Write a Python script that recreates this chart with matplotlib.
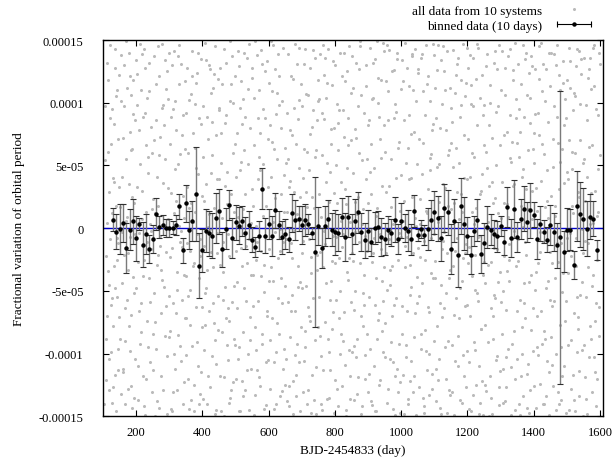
import matplotlib
matplotlib.use("Agg")
import matplotlib.pyplot as plt
from matplotlib.lines import Line2D
from matplotlib.legend_handler import HandlerLine2D, HandlerTuple
from matplotlib.ticker import FixedLocator, FixedFormatter

plt.rcParams["font.family"] = ["Liberation Serif", "DejaVu Serif"]

# Unbinned points from all 10 systems: (BJD-2454833, variation in 1e-6)
gray_pts = [
    (112, 132), (118, -45), (121, 88), (108, -121), (126, 12), (131, -78), (137, 143), (142, -8), (115, 61), (128, -139),
    (134, 37), (146, -96), (110, -22), (139, 105), (123, -61), (144, 71), (119, -104), (133, -30), (148, 122), (113, 4),
    (127, 95), (141, -55), (136, -117), (117, 29), (145, -12),
    (152, -88), (158, 41), (163, 130), (167, -140), (171, 9), (176, -33), (181, 77), (186, -69), (191, 118), (196, -5),
    (155, 101), (161, -115), (169, 55), (174, -20), (179, 140), (184, -126), (189, 25), (194, -52), (198, 86), (157, -3),
    (165, -64), (173, 112), (182, -98), (188, 63), (193, -135),
    (202, 98), (207, -27), (211, 147), (215, -83), (219, 30), (224, -142), (229, 66), (233, -11), (238, 109), (243, -59),
    (247, 15), (205, -110), (213, 51), (221, -38), (227, 128), (235, -95), (241, 3), (246, 81), (209, -66), (217, 139),
    (231, -120), (237, 44), (244, -17), (249, -131), (226, 92),
    (251, 23), (256, -75), (260, 115), (264, -138), (269, 58), (273, -14), (278, 96), (283, -47), (287, 134), (292, -102),
    (297, 7), (254, 70), (262, -29), (267, 145), (275, -118), (281, 36), (289, -62), (295, 103), (258, -150), (271, -6),
    (285, 82), (299, -87), (266, 18), (279, -41), (293, 125),
    (302, -23), (306, 89), (311, -131), (316, 47), (320, -68), (325, 137), (329, 2), (334, -106), (339, 74), (343, -37),
    (348, 117), (304, -144), (313, 12), (318, 101), (327, -85), (332, 59), (337, -15), (345, -123), (308, 130), (322, -49),
    (341, 26), (347, -72), (314, -100), (330, 146), (336, -2),
    (351, 92), (356, -54), (360, 16), (365, -137), (369, 121), (374, -28), (378, 64), (383, -91), (387, 140), (392, -9),
    (397, -115), (353, 33), (362, -77), (367, 107), (376, -146), (381, 48), (389, -40), (395, 83), (358, -120), (371, 5),
    (385, 124), (399, -63), (364, -18), (379, 99), (393, -132),
    (402, 57), (406, -97), (411, 134), (415, -33), (420, 11), (424, -127), (429, 85), (433, -60), (438, 145), (443, -4),
    (447, -81), (404, 22), (413, -140), (418, 71), (427, -19), (431, 112), (440, -108), (445, 39), (408, -52), (422, 127),
    (435, -76), (449, 96), (416, 1), (437, -148), (426, 44),
    (452, -118), (456, 76), (461, -35), (465, 143), (470, -72), (474, 19), (479, -139), (483, 101), (488, -8), (493, 60),
    (497, -93), (454, 128), (463, -57), (468, 34), (477, -105), (481, -22), (490, 137), (495, -46), (458, 8), (472, 90),
    (486, -129), (499, 67), (466, -150), (485, 115), (476, -64),
    (502, 41), (507, -104), (511, 129), (515, -16), (520, 83), (524, -134), (529, 27), (533, -58), (538, 111), (543, -89),
    (547, 4), (505, -43), (513, 96), (518, -122), (527, 62), (531, -3), (540, 147), (545, -71), (509, -146), (522, 15),
    (536, -28), (549, 120), (516, 53), (534, -113), (526, 140),
    (552, -62), (556, 104), (561, -25), (565, 138), (570, -119), (574, 46), (579, -84), (583, 10), (588, 125), (593, -141),
    (597, 71), (554, 18), (563, -97), (568, 88), (577, -38), (581, 131), (590, -6), (595, -70), (558, -133), (572, 57),
    (586, -51), (599, 33), (566, -11), (584, 95), (591, -107),
    (602, 116), (606, -31), (611, 69), (615, -144), (620, 24), (624, -76), (629, 139), (633, -18), (638, 80), (643, -112),
    (647, 42), (604, -89), (613, 5), (618, 127), (627, -56), (631, 98), (640, -130), (645, 13), (608, 149), (622, -99),
    (636, -40), (649, -125), (616, 63), (634, -1), (626, 108),
    (652, -9), (656, 92), (661, -126), (665, 38), (670, -53), (674, 119), (679, -101), (683, 67), (688, -30), (693, 144),
    (697, -79), (654, -138), (663, 78), (668, -12), (677, 29), (681, -117), (690, 102), (695, -43), (658, 55), (672, -148),
    (686, 131), (699, 7), (666, -66), (684, -92), (691, 48),
    (702, -48), (706, 131), (711, -82), (715, 17), (720, -129), (724, 75), (729, -36), (733, 142), (738, -4), (743, -111),
    (747, 86), (704, 40), (713, 107), (718, -63), (727, -147), (731, 25), (740, 57), (745, -21), (708, -106), (722, -9),
    (736, -137), (749, 118), (716, 61), (734, 94), (726, -74),
    (752, 103), (756, -19), (761, 58), (765, -113), (770, 136), (774, -44), (779, 8), (783, -135), (788, 79), (793, -67),
    (797, 28), (754, -86), (763, 146), (768, -2), (777, 116), (781, -99), (790, -26), (795, 133), (758, -140), (772, 37),
    (786, -57), (799, -121), (766, 87), (784, 45), (791, -80),
    (802, -7), (806, -128), (811, 94), (815, -50), (820, 121), (824, -90), (829, 31), (833, -145), (838, 66), (843, -24),
    (847, 108), (804, 50), (813, -72), (818, 6), (827, 140), (831, -109), (840, -41), (845, -136), (808, 84), (822, -15),
    (836, 125), (849, -59), (816, -100), (834, 19), (826, 73),
    (852, 137), (856, -65), (861, 21), (865, -103), (870, 97), (874, -11), (879, -148), (883, 54), (888, -37), (893, 113),
    (897, -84), (854, -26), (863, 72), (868, -132), (877, 145), (881, 3), (890, -120), (895, 39), (858, -94), (872, 127),
    (886, -52), (899, 82), (866, 11), (884, -78), (891, -6),
    (902, -116), (906, 45), (911, -27), (915, 132), (920, -61), (924, 10), (929, 100), (933, -125), (938, 56), (943, -42),
    (947, 141), (904, 86), (913, -141), (918, -8), (927, -88), (931, 120), (940, -17), (945, -99), (908, 27), (922, -146),
    (936, 71), (949, -31), (916, 104), (934, -68), (926, 149),
    (952, 61), (956, -139), (961, 109), (965, -33), (970, 17), (974, -107), (979, 88), (983, -56), (988, 135), (993, -4),
    (997, -123), (954, -20), (963, 34), (968, -91), (977, 126), (981, -149), (990, 64), (995, 14), (958, 146), (972, -70),
    (986, -112), (999, 42), (966, -45), (984, 93), (991, -131),
    (1002, -84), (1006, 117), (1011, -14), (1015, 52), (1020, -136), (1024, 90), (1029, -47), (1033, 25), (1038, -118),
    (1043, 143), (1047, -60), (1004, 6), (1013, -103), (1018, 128), (1027, -29), (1031, 75), (1040, -87), (1045, 2),
    (1008, -148), (1022, 39), (1036, 110), (1049, -39), (1016, -66), (1034, 137), (1026, -122),
    (1052, 124), (1056, -23), (1061, -96), (1065, 68), (1070, -142), (1074, 14), (1079, 115), (1083, -67), (1088, 46),
    (1093, -128), (1097, 83), (1054, -54), (1063, 139), (1068, -10), (1077, -113), (1081, 31), (1090, -36), (1095, 147),
    (1058, 23), (1072, -81), (1086, 101), (1099, -5), (1066, -135), (1084, -100), (1091, 59),
    (1102, -40), (1106, 88), (1111, -121), (1115, 21), (1120, 134), (1124, -71), (1129, -3), (1133, 110), (1138, -147),
    (1143, 62), (1147, -33), (1104, -112), (1113, 51), (1118, -60), (1127, 145), (1131, -95), (1140, 18), (1145, -129),
    (1108, 126), (1122, -17), (1136, 78), (1149, 96), (1116, -143), (1134, -52), (1126, 35),
    (1152, -131), (1156, 49), (1161, -18), (1165, 122), (1170, -86), (1174, 7), (1179, 98), (1183, -139), (1188, 40),
    (1193, -62), (1197, 144), (1154, 85), (1163, -106), (1168, 29), (1177, -48), (1181, 118), (1190, -118), (1195, -13),
    (1158, -69), (1172, 136), (1186, -24), (1199, -98), (1166, 64), (1184, 13), (1191, 105),
    (1202, 71), (1206, -144), (1211, 114), (1215, -38), (1220, 3), (1224, -97), (1229, 147), (1233, -58), (1238, 27),
    (1243, -122), (1247, 90), (1204, -15), (1213, 60), (1218, -133), (1227, 119), (1231, -7), (1240, -80), (1245, 43),
    (1208, 138), (1222, -49), (1236, -110), (1249, -27), (1216, 97), (1234, -148), (1226, 16),
    (1252, -77), (1256, 129), (1261, -29), (1265, 82), (1270, -135), (1274, 37), (1279, -53), (1283, 141), (1288, -102),
    (1293, 12), (1297, 66), (1254, -125), (1263, 5), (1268, 100), (1277, -88), (1281, -16), (1290, 127), (1295, -141),
    (1258, 48), (1272, -64), (1286, 93), (1299, -114), (1266, -150), (1284, 24), (1291, -43),
    (1302, 110), (1306, -50), (1311, 20), (1315, -127), (1320, 77), (1324, -13), (1329, 143), (1333, -92), (1338, 34),
    (1343, -145), (1347, 103), (1304, -84), (1313, 128), (1318, -34), (1327, 56), (1331, -111), (1340, -2), (1345, 88),
    (1308, -139), (1322, 9), (1336, 118), (1349, -66), (1316, -103), (1334, 69), (1326, -25),
    (1352, -9), (1356, 95), (1361, -118), (1365, 41), (1370, -60), (1374, 135), (1379, -143), (1383, 15), (1388, 84),
    (1393, -37), (1397, -98), (1354, 57), (1363, -79), (1368, 146), (1377, -21), (1381, 106), (1390, -129), (1395, 30),
    (1358, -149), (1372, -44), (1386, 124), (1399, 63), (1366, 1), (1384, -108), (1391, 137),
    (1402, -126), (1406, 32), (1411, -70), (1415, 119), (1420, -19), (1424, 67), (1429, -140), (1433, 101), (1438, -48),
    (1443, 8), (1447, 140), (1404, 91), (1413, -101), (1418, -3), (1427, 131), (1431, -82), (1440, 46), (1445, -115),
    (1408, -35), (1422, 148), (1436, -134), (1449, -57), (1416, 74), (1434, 17), (1426, -92),
    (1452, 26), (1456, -109), (1461, 139), (1465, -40), (1470, 89), (1474, -131), (1479, 53), (1483, -12), (1488, 116),
    (1493, -74), (1497, -147), (1454, -62), (1463, 10), (1468, -145), (1477, 122), (1481, -95), (1490, 36), (1495, 103),
    (1458, 71), (1472, -27), (1486, -118), (1499, -8), (1466, 130), (1484, -51), (1491, 82),
    (1502, -93), (1506, 144), (1511, -22), (1515, 61), (1520, -137), (1524, 105), (1529, -55), (1533, 29), (1538, -114),
    (1543, 123), (1547, -1), (1504, 39), (1513, -128), (1518, 94), (1527, -8), (1531, -99), (1540, 70), (1545, -43),
    (1508, 112), (1522, -68), (1536, 141), (1549, -150), (1516, 18), (1534, -80), (1526, 129),
    (1552, 55), (1556, -119), (1561, 86), (1565, -31), (1570, 136), (1574, -88), (1579, 4), (1583, 113), (1588, -142),
    (1593, 47), (1597, -63), (1554, -10), (1563, 120), (1568, -103), (1577, -46), (1581, 146), (1590, -25), (1595, 90),
    (1558, -136), (1572, 28), (1586, -74), (1599, 131), (1566, 65), (1584, -115), (1591, 10),
    # second pass over the same stretch
    (104, -140), (107, 54), (111, -70), (114, 118), (116, -34), (120, 146), (122, -9), (125, -99), (129, 40), (130, -127),
    (132, 83), (135, -48), (138, 18), (140, -146), (143, 110), (147, -71), (149, 33), (106, 97), (109, -88), (124, 67),
    (135, 128), (141, -25), (128, -56), (118, -129), (144, -113),
    (151, 17), (153, 138), (156, -44), (159, -112), (160, 72), (162, -21), (164, 97), (166, -90), (168, 6), (170, 149),
    (172, -57), (175, -128), (177, 35), (178, -78), (180, 121), (183, -7), (185, 62), (187, -143), (190, -39), (192, 91),
    (195, 20), (197, -104), (199, 134), (154, -132), (186, 106),
    (201, -48), (203, 33), (204, 123), (206, -137), (208, 78), (210, -4), (212, -92), (214, 110), (216, -60), (218, 7),
    (220, 89), (222, -118), (223, 143), (225, -25), (228, -149), (230, 13), (232, 104), (234, -74), (236, 57), (239, -40),
    (240, 132), (242, -107), (245, -2), (248, 60), (250, -84),
    (252, -113), (253, 137), (255, -52), (257, 12), (259, 86), (261, -96), (263, 41), (265, -21), (268, -143), (270, 121),
    (272, 73), (274, -68), (276, -33), (277, 147), (280, -129), (282, 98), (284, 1), (286, -86), (288, 55), (290, -19),
    (291, 111), (294, -148), (296, 32), (298, -54), (300, 140),
    (301, 67), (303, -82), (305, 28), (307, -16), (309, -146), (310, 95), (312, -60), (315, 141), (317, -112), (319, 22),
    (321, 78), (323, -35), (324, -129), (326, 51), (328, 115), (331, -94), (333, -11), (335, 131), (338, -57), (340, 90),
    (342, -140), (344, 8), (346, 63), (349, -101), (350, -38),
    (352, -72), (354, 128), (355, -12), (357, 60), (359, -144), (361, 102), (363, -49), (366, 20), (368, -94), (370, 141),
    (372, -30), (373, 76), (375, -125), (377, 13), (380, -63), (382, 116), (384, -5), (386, -110), (388, 43), (390, -140),
    (391, 88), (394, -22), (396, 135), (398, -79), (400, 26),
    (401, -136), (403, 97), (405, -14), (407, 148), (409, -77), (410, 35), (412, -48), (414, 89), (417, -118), (419, 130),
    (421, -66), (423, -1), (425, 108), (428, -102), (430, 58), (432, -31), (434, 123), (436, 16), (439, -89), (441, 74),
    (442, -145), (444, -20), (446, 119), (448, -54), (450, 39),
    (451, 94), (453, -29), (455, -146), (457, 52), (459, -83), (460, 115), (462, -11), (464, -119), (467, 84), (469, -47),
    (471, 132), (473, -93), (475, 45), (478, -5), (480, -74), (482, 149), (484, -135), (487, 27), (489, -59), (491, 100),
    (492, -123), (494, 13), (496, -88), (498, 121), (500, -18),
    (501, -120), (503, 76), (504, -64), (506, 141), (508, 9), (510, -95), (512, 46), (514, -146), (517, 117), (519, -30),
    (521, -83), (523, 103), (525, -48), (528, -129), (530, 89), (532, -14), (535, 136), (537, -100), (539, 51), (541, -9),
    (542, -145), (544, 80), (546, -37), (548, -112), (550, 31),
    (551, 128), (553, -37), (555, -149), (557, 66), (559, -79), (560, 149), (562, 2), (564, -113), (567, 39), (569, -58),
    (571, 110), (573, -126), (575, 76), (576, -18), (578, 142), (580, -92), (582, 51), (585, -144), (587, -29), (589, 88),
    (592, 18), (594, -66), (596, 133), (598, -105), (600, -42),
    (601, -17), (603, 82), (605, -128), (607, 41), (609, -72), (610, 109), (612, -42), (614, 146), (617, -107), (619, -3),
    (621, 91), (623, -140), (625, 55), (628, -24), (630, -84), (632, 121), (635, -134), (637, 27), (639, -60), (641, 101),
    (642, -11), (644, 144), (646, -96), (648, 64), (650, -46),
    (651, 52), (653, -104), (655, 13), (657, -59), (659, 139), (660, -142), (662, 33), (664, -87), (667, 121), (669, -24),
    (671, 74), (673, -122), (675, -2), (676, 96), (678, -66), (680, 147), (682, -134), (685, 11), (687, -47), (689, 87),
    (692, -107), (694, 25), (696, -146), (698, 115), (700, -20),
    (701, 97), (703, -131), (705, -10), (707, 63), (709, -95), (710, 143), (712, -46), (714, 29), (717, -140), (719, 106),
    (721, -70), (723, 46), (725, 128), (728, -23), (730, -117), (732, 81), (735, -56), (737, 16), (739, 136), (741, -89),
    (742, 62), (744, -148), (746, -33), (748, 101), (750, -79),
    (751, -55), (753, 27), (755, 139), (757, -102), (759, 9), (760, -145), (762, 92), (764, -31), (767, 122), (769, -75),
    (771, -13), (773, 104), (775, -136), (776, 52), (778, -88), (780, 143), (782, 21), (785, -113), (787, 67), (789, -42),
    (792, 114), (794, -6), (796, -147), (798, 80), (800, -28),
    (801, 130), (803, -57), (805, 20), (807, 99), (809, -142), (810, 62), (812, -24), (814, 140), (817, -84), (819, 37),
    (821, -126), (823, 94), (825, -5), (828, -67), (830, 117), (832, -150), (835, 48), (837, -35), (839, 88), (841, -97),
    (842, 145), (844, 5), (846, -118), (848, 70), (850, -20),
    (851, -99), (853, 44), (855, 112), (857, -137), (859, -3), (860, 79), (862, -50), (864, 132), (867, -88), (869, 25),
    (871, -119), (873, 60), (875, -28), (876, 149), (878, -70), (880, 106), (882, -142), (885, 15), (887, 92), (889, -61),
    (892, -101), (894, 130), (896, -18), (898, 55), (900, -131),
    (901, 20), (903, -55), (905, 144), (907, -96), (909, 67), (910, -138), (912, 103), (914, -20), (917, 48), (919, -110),
    (921, 135), (923, -40), (925, -146), (928, 16), (930, -73), (932, 89), (935, -121), (937, -5), (939, 118), (941, -82),
    (942, 34), (944, 148), (946, -58), (948, 82), (950, -103),
    (951, -76), (953, 117), (955, 29), (957, -49), (959, -128), (960, 86), (962, -9), (964, 142), (967, -104), (969, 55),
    (971, -30), (973, 125), (975, -144), (976, 3), (978, -61), (980, 99), (982, -118), (985, 40), (987, 140), (989, -25),
    (992, -92), (994, 69), (996, -147), (998, 111), (1000, -7),
    (1001, 134), (1003, -62), (1005, -117), (1007, 22), (1009, 86), (1010, -31), (1012, 148), (1014, -93), (1017, -7),
    (1019, 64), (1021, -140), (1023, 113), (1025, -53), (1028, 40), (1030, -106), (1032, 139), (1035, -20), (1037, -131),
    (1039, 77), (1041, 8), (1042, -68), (1044, 101), (1046, -149), (1048, 51), (1050, 127),
    (1051, -16), (1053, -127), (1055, 71), (1057, 3), (1059, 136), (1060, -84), (1062, 43), (1064, -44), (1067, 109),
    (1069, -147), (1071, 90), (1073, -25), (1075, -98), (1076, 146), (1078, 12), (1080, -63), (1082, 121), (1085, -133),
    (1087, 56), (1089, -8), (1092, -116), (1094, 78), (1096, -40), (1098, 138), (1100, -90),
    (1101, 112), (1103, -26), (1105, -138), (1107, 49), (1109, -78), (1110, 146), (1112, 5), (1114, -104), (1117, 80),
    (1119, -45), (1121, -148), (1123, 99), (1125, -10), (1128, 125), (1130, -64), (1132, 32), (1135, -120), (1137, -20),
    (1139, 141), (1141, -90), (1142, 58), (1144, -40), (1146, 112), (1148, -133), (1150, 15),
    (1151, 68), (1153, -93), (1155, 142), (1157, -30), (1159, 20), (1160, -149), (1162, 108), (1164, -56), (1167, -8),
    (1169, 131), (1171, -110), (1173, 52), (1175, -72), (1176, 89), (1178, -137), (1180, 27), (1182, -42), (1185, 147),
    (1187, -101), (1189, 74), (1192, -20), (1194, 116), (1196, -127), (1198, 39), (1200, -61),
    (1201, -28), (1203, 128), (1205, -107), (1207, 41), (1209, -70), (1210, 99), (1212, -146), (1214, 13), (1217, 136),
    (1219, -91), (1221, 57), (1223, -21), (1225, -125), (1228, 82), (1230, -52), (1232, 144), (1235, -6), (1237, 104),
    (1239, -139), (1241, 30), (1242, -80), (1244, 122), (1246, -37), (1248, -149), (1250, 66),
    (1251, 98), (1253, -44), (1255, -130), (1257, 61), (1259, -1), (1260, 139), (1262, -91), (1264, 34), (1267, -118),
    (1269, 114), (1271, -27), (1273, 72), (1275, -148), (1276, 20), (1278, -70), (1280, 132), (1282, -56), (1285, -105),
    (1287, 50), (1289, -17), (1292, 97), (1294, -127), (1296, 146), (1298, -35), (1300, 8),
    (1301, -59), (1303, 37), (1305, 141), (1307, -112), (1309, 74), (1310, -22), (1312, -138), (1314, 106), (1317, -65),
    (1319, 19), (1321, 137), (1323, -96), (1325, -42), (1328, 90), (1330, -149), (1332, 53), (1335, -9), (1337, 126),
    (1339, -82), (1341, 35), (1342, -120), (1344, 148), (1346, -30), (1348, 68), (1350, -104),
    (1351, 131), (1353, -26), (1355, -140), (1357, 77), (1359, -57), (1360, 18), (1362, 115), (1364, -100), (1367, 47),
    (1369, -134), (1371, 89), (1373, -11), (1375, -72), (1376, 140), (1378, 31), (1380, -116), (1382, 62), (1385, -43),
    (1387, -147), (1389, 104), (1392, -81), (1394, 7), (1396, 129), (1398, -64), (1400, 52),
    (1401, 76), (1403, -49), (1405, 127), (1407, -143), (1409, 14), (1410, -95), (1412, 92), (1414, -28), (1417, 145),
    (1419, -124), (1421, 38), (1423, -66), (1425, 109), (1428, -11), (1430, -140), (1432, 59), (1435, -88), (1437, 127),
    (1439, 22), (1441, -106), (1442, 85), (1444, -42), (1446, -149), (1448, 113), (1450, -19),
    (1451, -87), (1453, 140), (1455, -28), (1457, 49), (1459, -126), (1460, 97), (1462, -58), (1464, 18), (1467, -100),
    (1469, 146), (1471, -12), (1473, 68), (1475, -140), (1476, 31), (1478, -77), (1480, 110), (1482, -137), (1485, 63),
    (1487, -36), (1489, 133), (1492, -110), (1494, -2), (1496, 88), (1498, -58), (1500, 45),
    (1501, 118), (1503, -36), (1505, -145), (1507, 70), (1509, -4), (1510, 133), (1512, -89), (1514, 47), (1517, -117),
    (1519, 12), (1521, 108), (1523, -146), (1525, 60), (1528, -30), (1530, 143), (1532, -71), (1535, 25), (1537, -134),
    (1539, 99), (1541, -53), (1542, 8), (1544, 135), (1546, -97), (1548, 52), (1550, -20),
    (1551, -93), (1553, 136), (1555, 22), (1557, -55), (1559, 98), (1560, -148), (1562, 41), (1564, -12), (1567, 127),
    (1569, -78), (1571, 3), (1573, 111), (1575, -131), (1576, 66), (1578, -37), (1580, 144), (1582, -103), (1585, 30),
    (1587, -60), (1589, 95), (1592, -120), (1594, 13), (1596, 140), (1598, -86), (1600, 58),
]

# 10-day bins: centre day, mean and error (both in 1e-5)
bin_days = [
    130, 140, 150, 160, 170, 180, 190, 200, 210, 220, 230, 240, 250, 260, 270, 280, 290, 300, 310, 320,
    330, 340, 350, 360, 370, 380, 390, 400, 410, 420, 430, 440, 450, 460, 470, 480, 490, 500, 510, 520,
    530, 540, 550, 560, 570, 580, 590, 600, 610, 620, 630, 640, 650, 660, 670, 680, 690, 700, 710, 720,
    730, 740, 750, 760, 770, 780, 790, 800, 810, 820, 830, 840, 850, 860, 870, 880, 890, 900, 910, 920,
    930, 940, 950, 960, 970, 980, 990, 1000, 1010, 1020, 1030, 1040, 1050, 1060, 1070, 1080, 1090, 1100, 1110, 1120,
    1130, 1140, 1150, 1160, 1170, 1180, 1190, 1200, 1210, 1220, 1230, 1240, 1250, 1260, 1270, 1280, 1290, 1300, 1310, 1320,
    1330, 1340, 1350, 1360, 1370, 1380, 1390, 1400, 1410, 1420, 1430, 1440, 1450, 1460, 1470, 1480, 1490, 1500, 1510, 1520,
    1530, 1540, 1550, 1560, 1570, 1580, 1590,
]
bin_mean = [
    0.69, -0.27, -0.05, 0.43, -1.60, -0.11, 0.56, -0.80, 0.32, -1.33, -0.48, -1.65, -0.85, 1.12, 0.11, 0.27, 0.0, 0.03, 0.05, 0.24,
    1.73, -1.76, 1.97, -0.13, 0.56, 2.71, -3.0, -1.76, -0.19, -0.40, -0.61, 0.82, 1.36, -1.70, -0.03, 1.86, -0.80, 0.48, 0.21, 0.56,
    -0.40, 0.27, -0.93, -1.49, -0.64, 3.14, -0.59, 0.35, -0.59, 1.41, 0.24, -0.72, -0.43, -0.88, 1.20, 0.66, 0.74, 0.24, 0.66, 0.35,
    -0.40, -1.89, 0.19, -1.60, 0.16, 0.72, -0.11, -0.32, -0.35, 0.90, -0.72, 0.93, -0.45, 0.56, 1.25, -0.29, -0.98, -0.19, -1.12, 0.0,
    0.13, -0.72, -0.85, -0.13, -0.35, 0.66, -0.85, 0.59, 0.0, -0.19, -0.90, 1.36, -0.53, -0.08, -0.56, -0.08, 0.66, 1.25, 0.80, -0.82,
    1.62, 1.28, -1.65, 0.61, -2.10, 1.76, 0.35, -0.59, -2.13, -0.21, 0.66, -2.07, -1.20, 0.08, -0.11, -0.45, -0.66, 0.21, -1.12, 1.68,
    -0.77, 1.54, -0.69, 0.72, 1.54, 0.51, 1.41, 1.06, -0.85, 0.37, -0.27, -0.93, 0.27, -0.32, -1.38, -0.74, -1.86, -0.11, -0.11, -2.95,
    1.76, 1.12, 0.72, -0.05, 0.93, 0.74, -1.73,
]
bin_err = [
    0.9, 1.4, 2.0, 1.5, 2.0, 1.6, 1.8, 1.8, 0.5, 1.8, 1.6, 1.1, 1.1, 1.3, 0.9, 0.8, 0.7, 0.7, 0.5, 0.8,
    1.0, 1.0, 1.5, 1.5, 1.6, 3.75, 2.6, 1.7, 1.7, 1.8, 1.8, 2.0, 1.8, 1.4, 1.6, 1.2, 1.6, 1.4, 1.5, 1.2,
    1.3, 1.1, 1.0, 0.8, 1.2, 1.65, 1.4, 1.2, 1.6, 1.4, 1.1, 1.3, 1.2, 1.0, 1.5, 1.6, 1.0, 1.5, 1.3, 0.8,
    0.5, 6.0, 1.5, 1.6, 1.6, 1.5, 1.3, 1.8, 1.5, 1.5, 1.9, 1.6, 1.6, 1.8, 1.6, 1.5, 1.4, 1.6, 1.1, 1.3,
    1.2, 1.5, 1.3, 1.1, 1.1, 1.8, 1.2, 1.4, 1.1, 1.6, 1.2, 1.3, 0.5, 0.7, 0.8, 1.7, 1.6, 1.7, 1.8, 1.8,
    1.9, 1.8, 2.0, 1.7, 2.6, 2.2, 2.1, 1.5, 1.5, 1.2, 1.7, 1.5, 1.6, 1.7, 1.2, 1.1, 1.2, 0.8, 1.0, 1.6,
    1.5, 2.3, 1.2, 1.6, 1.8, 1.6, 2.2, 1.0, 1.6, 1.4, 0.9, 1.0, 1.6, 1.5, 1.8, 11.7, 1.6, 1.7, 1.6, 1.1,
    2.8, 2.6, 2.5, 2.2, 1.8, 1.4, 0.8,
]

y_ticks = [-0.00015, -0.0001, -5e-05, 0, 5e-05, 0.0001, 0.00015]
y_tick_labels = ["-0.00015", "-0.0001", "-5e-05", "0", "5e-05", "0.0001", "0.00015"]
x_ticks = [200, 400, 600, 800, 1000, 1200, 1400, 1600]

gray_days = [p[0] for p in gray_pts]
gray_frac = [p[1] * 1e-6 for p in gray_pts]
bin_frac = [v * 1e-5 for v in bin_mean]
bin_frac_err = [v * 1e-5 for v in bin_err]

fig = plt.figure(figsize=(6.16, 4.64), dpi=100)
ax = fig.add_axes([0.1672, 0.1006, 0.8112, 0.811])

ax.plot(gray_days, gray_frac, linestyle="none", marker="o", markersize=2.2,
        markeredgewidth=0, color="#bababa", zorder=1)

ax.axhline(0, color="#0000c8", linewidth=1.0, zorder=2)

_, caps, bars = ax.errorbar(bin_days, bin_frac, yerr=bin_frac_err, fmt="o", markersize=2.2,
                            color="black", ecolor="#7a7a7a", elinewidth=1.0, capsize=2.0,
                            capthick=0.8, zorder=3)
for c in caps:
    c.set_markeredgecolor("#303030")

ax.set_xlim(100, 1608)
ax.set_ylim(-0.00015, 0.00015)
ax.xaxis.set_major_locator(FixedLocator(x_ticks))
ax.yaxis.set_major_locator(FixedLocator(y_ticks))
ax.yaxis.set_major_formatter(FixedFormatter(y_tick_labels))
ax.tick_params(direction="in", length=4.5, width=0.8, top=True, right=True, labelsize=9)
ax.tick_params(axis="y", pad=14)
ax.tick_params(axis="x", pad=7)
for s in ax.spines.values():
    s.set_linewidth(1.0)

ax.set_xlabel("BJD-2454833 (day)", fontsize=9.5)
ax.set_ylabel("Fractional variation of orbital period", fontsize=9.5, labelpad=10)

# legend in gnuplot style, above the top right corner
h_gray = Line2D([], [], linestyle="none", marker="o", markersize=2.2, markeredgewidth=0, color="#bababa")
h_caps = Line2D([], [], color="black", linewidth=0.8, marker="|", markersize=5, markeredgewidth=0.8)
h_dot = Line2D([], [], linestyle="none", marker="o", markersize=2.2, color="black")
ax.legend([h_gray, (h_caps, h_dot)], ["all data from 10 systems", "binned data (10 days)"],
          loc="lower right", bbox_to_anchor=(1.0, 1.0), frameon=False, markerfirst=False,
          fontsize=9.5, handlelength=3.2, handletextpad=0.8, borderaxespad=0.2, labelspacing=0.25,
          handler_map={h_caps: HandlerLine2D(numpoints=2), h_dot: HandlerLine2D(numpoints=1),
                       tuple: HandlerTuple(ndivide=1, pad=0)})

fig.savefig("out.png", dpi=100)
